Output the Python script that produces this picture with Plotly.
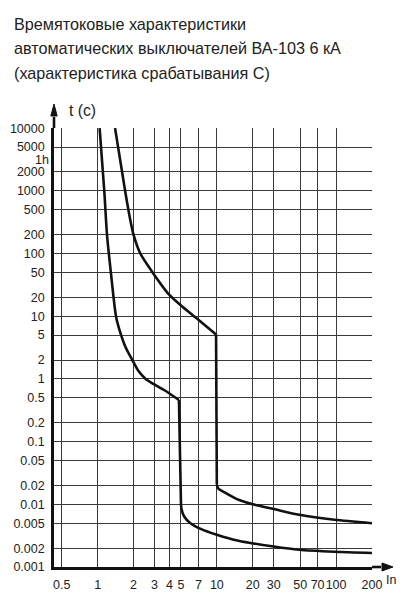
import plotly.graph_objects as go

# ---- data ----
title_lines = ["Времятоковые характеристики",
               "автоматических выключателей ВА-103 6 кА",
               "(характеристика срабатывания С)"]

x_ticks = [0.5, 1, 2, 3, 4, 5, 7, 10, 20, 30, 50, 70, 100, 200]
x_tick_text = ["0.5", "1", "2", "3", "4", "5", "7", "10", "20", "30", "50", "70", "100", "200"]
y_ticks = [10000, 5000, 2000, 1000, 500, 200, 100, 50, 20, 10, 5, 2, 1,
           0.5, 0.2, 0.1, 0.05, 0.02, 0.01, 0.005, 0.002, 0.001]
y_tick_text = ["10000", "5000", "2000", "1000", "500", "200", "100", "50", "20", "10", "5", "2", "1",
               "0.5", "0.2", "0.1", "0.05", "0.02", "0.01", "0.005", "0.002", "0.001"]
hour_tick = [3600]
hour_text = ["1h"]

# lower curve (I/In, t s): thermal part, then magnetic tail
low_top_x = [1.039, 1.137, 1.198, 1.291, 1.425, 1.536, 1.72, 1.955, 2.21, 2.53, 3.08, 3.67, 4.81]
low_top_y = [10000, 1000, 200, 50, 10, 5.78, 3.17, 2.0, 1.32, 1.0, 0.79, 0.653, 0.46]
low_tail_x = [5.0, 5.05, 5.32, 6.0, 7.31, 10.0, 15.2, 30.0, 49.1, 97.0, 200.0]
low_tail_y = [0.0105, 0.0085, 0.00638, 0.0050, 0.00406, 0.00327, 0.00262, 0.00212, 0.00188, 0.00175, 0.00167]

# upper curve
up_top_x = [1.40, 1.70, 1.85, 2.0, 2.28, 2.89, 4.0, 5.0, 7.0, 9.85]
up_top_y = [10000, 1000, 400, 200, 100, 50, 21.8, 14.8, 8.8, 5.1]
up_tail_x = [10.0, 10.3, 11.3, 15.2, 20.8, 30.0, 49.1, 97.0, 200.0]
up_tail_y = [0.0205, 0.0178, 0.016, 0.0118, 0.0098, 0.0084, 0.0068, 0.00566, 0.0050]

# page has an 8px body margin: figure is drawn at page offset (8, 8)
OFF = 8
W, H = 410 - 2 * OFF, 600 - 2 * OFF
PL, PR, PT, PB = 54, 372, 128, 567          # plot box in page pixels
L, T = PL - OFF, PT - OFF
R, B = W - (PR - OFF), H - (PB - OFF)
pw, ph = PR - PL, PB - PT

def px(xp):   # page x -> paper fraction
    return (xp - PL) / pw

def py(yp):   # page y -> paper fraction
    return (PB - yp) / ph

INK = "#111111"
GRID = "#3a3a3a"
TEXT = "#222222"
FONT = "Liberation Sans, Arial, sans-serif"
TICKFONT = dict(family=FONT, size=12.5, color=TEXT)

fig = go.Figure()
line_style = dict(color=INK, width=2.6)
for xs, ys in [(low_top_x, low_top_y), (low_tail_x, low_tail_y),
               (up_top_x, up_top_y), (up_tail_x, up_tail_y)]:
    fig.add_trace(go.Scatter(x=xs, y=ys, mode="lines",
                             line=dict(**line_style, shape="spline", smoothing=0.7),
                             showlegend=False, hoverinfo="skip"))
# vertical drops (instantaneous release)
for top_x, top_y, tail_x, tail_y in [(low_top_x, low_top_y, low_tail_x, low_tail_y),
                                     (up_top_x, up_top_y, up_tail_x, up_tail_y)]:
    fig.add_trace(go.Scatter(x=[top_x[-1], tail_x[0]], y=[top_y[-1], tail_y[0]], mode="lines",
                             line=line_style, showlegend=False, hoverinfo="skip"))
# invisible trace to activate secondary y axis (1h label)
fig.add_trace(go.Scatter(x=[1], y=[1], yaxis="y2", mode="markers",
                         marker=dict(opacity=0), showlegend=False, hoverinfo="skip"))

yrange = [-3, 4.002]
hour_nudge = 0.064   # label "1h" sits a little below its exact value, as in the original
fig.update_layout(
    width=W, height=H,
    margin=dict(l=L, r=R, t=T, b=B, autoexpand=False),
    paper_bgcolor="white", plot_bgcolor="white",
    xaxis=dict(type="log", range=[-0.366, 2.3015],
               tickmode="array", tickvals=x_ticks, ticktext=x_tick_text, tickangle=0,
               showgrid=True, gridcolor=GRID, gridwidth=1,
               showline=True, linecolor=INK, linewidth=2.6,
               zeroline=False, ticks="", ticklabelstandoff=4,
               tickfont=TICKFONT, fixedrange=True),
    yaxis=dict(type="log", range=yrange,
               tickmode="array", tickvals=y_ticks, ticktext=y_tick_text,
               showgrid=True, gridcolor=GRID, gridwidth=1,
               showline=True, linecolor=INK, linewidth=2.6,
               zeroline=False, ticks="", ticklabelstandoff=4,
               tickfont=TICKFONT, fixedrange=True),
    yaxis2=dict(type="log", range=[yrange[0] + hour_nudge, yrange[1] + hour_nudge],
                overlaying="y", side="left",
                tickmode="array", tickvals=hour_tick, ticktext=hour_text,
                showgrid=False, showline=False, zeroline=False, ticks="",
                ticklabelstandoff=4, tickfont=TICKFONT, fixedrange=True),
)

# title lines
for i, (line, yc) in enumerate(zip(title_lines, [23.5, 47.5, 73])):
    fig.add_annotation(text=line, xref="paper", yref="paper",
                       x=px(12), y=py(yc), xanchor="left", yanchor="middle",
                       showarrow=False, font=dict(family=FONT, size=16.2, color=TEXT))

# axis labels
fig.add_annotation(text="t (c)", xref="paper", yref="paper",
                   x=px(67), y=py(111), xanchor="left", yanchor="middle",
                   showarrow=False, font=dict(family=FONT, size=15.7, color=TEXT))
fig.add_annotation(text="In", xref="paper", yref="paper",
                   x=px(384), y=py(580), xanchor="left", yanchor="middle",
                   showarrow=False, font=TICKFONT)

# axis arrow extensions and heads
ytip, ybase, yhw = 104, 116, 3.2
xtip, xbase, xhw = 393, 382, 4.0
fig.add_shape(type="line", xref="paper", yref="paper", x0=0, x1=0, y0=1, y1=py(ybase + 1),
              line=dict(color=INK, width=2.6))
fig.add_shape(type="path", xref="paper", yref="paper",
              path=f"M {px(PL)},{py(ytip)} L {px(PL - yhw)},{py(ybase)} L {px(PL + yhw)},{py(ybase)} Z",
              fillcolor=INK, line=dict(color=INK, width=1))
fig.add_shape(type="line", xref="paper", yref="paper", x0=1, x1=px(xbase - 1), y0=0, y1=0,
              line=dict(color=INK, width=2.6))
fig.add_shape(type="path", xref="paper", yref="paper",
              path=f"M {px(xtip)},{py(PB)} L {px(xbase)},{py(PB - xhw)} L {px(xbase)},{py(PB + xhw)} Z",
              fillcolor=INK, line=dict(color=INK, width=1))

fig.write_html("out.html")
